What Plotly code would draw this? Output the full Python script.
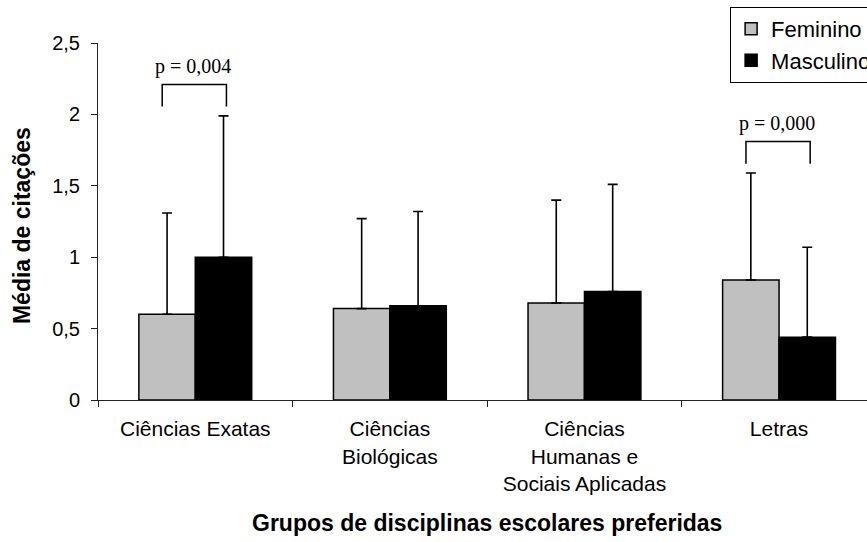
import plotly.graph_objects as go

# Groups of preferred school subjects
categories = [
    "Ciências Exatas",
    "Ciências<br>Biológicas",
    "Ciências<br>Humanas e<br>Sociais Aplicadas",
    "Letras",
]

# Mean number of citations and standard deviations by sex
fem_mean = [0.60, 0.64, 0.68, 0.84]
fem_sd = [0.71, 0.63, 0.72, 0.75]
masc_mean = [1.00, 0.66, 0.76, 0.44]
masc_sd = [0.99, 0.66, 0.75, 0.63]

# Significant comparisons (category index, label)
sig_index = [0, 3]
sig_labels = ["p = 0,004", "p = 0,000"]

y_tickvals = [0, 0.5, 1, 1.5, 2, 2.5]
y_ticktext = ["0", "0,5", "1", "1,5", "2", "2,5"]

SANS = "Liberation Sans, Arial, sans-serif"
SERIF = "Liberation Serif, Times New Roman, serif"

fig = go.Figure()

fig.add_trace(go.Bar(
    name="Feminino",
    x=categories,
    y=fem_mean,
    marker=dict(color="#C0C0C0", line=dict(color="black", width=1.5)),
    error_y=dict(type="data", symmetric=False, array=fem_sd,
                 arrayminus=[0] * len(fem_sd),
                 color="black", thickness=1.6, width=5),
    legendgroup="f",
))
fig.add_trace(go.Bar(
    name="Masculino",
    x=categories,
    y=masc_mean,
    marker=dict(color="black", line=dict(color="black", width=1.5)),
    error_y=dict(type="data", symmetric=False, array=masc_sd,
                 arrayminus=[0] * len(masc_sd),
                 color="black", thickness=1.6, width=5),
    legendgroup="m",
))

# Significance brackets above the compared pairs
shapes = []
annotations = []
for idx, label in zip(sig_index, sig_labels):
    top_err = max(fem_mean[idx] + fem_sd[idx], masc_mean[idx] + masc_sd[idx])
    leg_bottom = top_err + 0.065
    bracket_top = leg_bottom + 0.155
    x0, x1 = idx - 0.17, idx + 0.16
    shapes.append(dict(
        type="path", xref="x", yref="y",
        path=f"M {x0},{leg_bottom} L {x0},{bracket_top} L {x1},{bracket_top} L {x1},{leg_bottom}",
        line=dict(color="black", width=1.5),
    ))
    annotations.append(dict(
        x=idx - 0.01, y=bracket_top + 0.125, xref="x", yref="y",
        text=label, showarrow=False, xanchor="center", yanchor="middle",
        font=dict(family=SERIF, size=20, color="black"),
    ))

# Axis titles
annotations.append(dict(
    x=(len(categories) - 1) / 2, y=-0.345, xref="x", yref="paper",
    text="<b>Grupos de disciplinas escolares preferidas</b>", showarrow=False,
    xanchor="center", yanchor="middle",
    font=dict(family=SANS, size=23, color="black"),
))
annotations.append(dict(
    x=-0.098, y=0.489, xref="paper", yref="paper",
    text="<b>Média de citações</b>", showarrow=False, textangle=-90,
    xanchor="center", yanchor="middle",
    font=dict(family=SANS, size=23, color="black"),
))

fig.update_layout(
    width=867,
    height=542,
    margin=dict(l=98, r=0, t=43, b=142, autoexpand=False),
    paper_bgcolor="white",
    plot_bgcolor="white",
    barmode="group",
    bargap=0.42,
    bargroupgap=0,
    font=dict(family=SANS, size=20, color="black"),
    showlegend=True,
    legend=dict(
        x=0.822, y=1.101, xanchor="left", yanchor="top",
        xref="paper", yref="paper",
        bordercolor="black", borderwidth=1, bgcolor="white",
        font=dict(family=SANS, size=22, color="black"),
        tracegroupgap=2, traceorder="normal", itemwidth=30,
    ),
    shapes=shapes,
    annotations=annotations,
    xaxis=dict(
        type="category",
        range=[-0.5, 3.452],
        showline=True, linecolor="#222", linewidth=1,
        ticks="outside", ticklen=6, tickcolor="#222", tickwidth=1,
        tickson="boundaries",
        tickfont=dict(family=SANS, size=21, color="black"),
        ticklabelstandoff=10,
        showgrid=False, zeroline=False,
    ),
    yaxis=dict(
        range=[0, 2.5],
        tickvals=y_tickvals, ticktext=y_ticktext,
        showline=True, linecolor="#222", linewidth=1,
        ticks="outside", ticklen=6, tickcolor="#222", tickwidth=1,
        tickfont=dict(family=SANS, size=20, color="black"),
        showgrid=False, zeroline=False,
        ticklabelstandoff=7,
    ),
)

fig.write_html("out.html")
